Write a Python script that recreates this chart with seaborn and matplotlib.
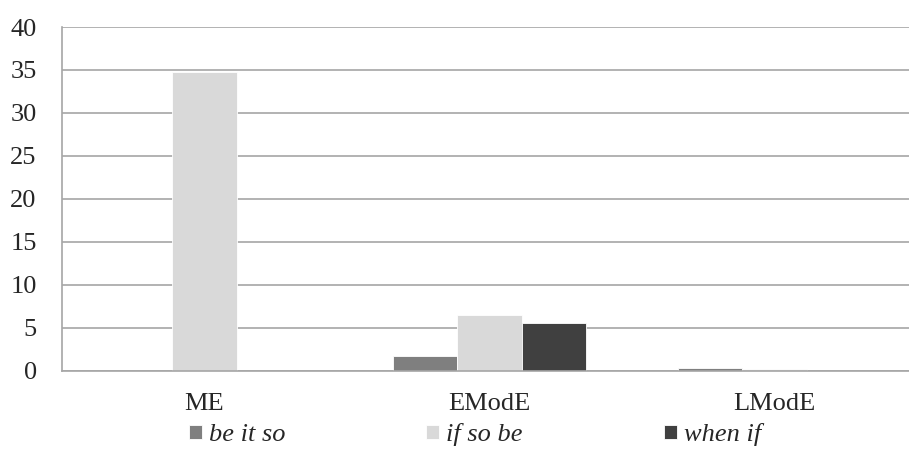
import numpy as np, pandas as pd
import matplotlib; matplotlib.use('Agg')
import matplotlib.pyplot as plt
import seaborn as sns

periods = ['ME', 'EModE', 'LModE']
series = ['be it so', 'if so be', 'when if']
be_it_so = [0.0, 1.65, 0.25]
if_so_be = [34.8, 6.43, 0.15]
when_if = [0.0, 5.53, 0.0]
colors = ['#7f7f7f', '#d9d9d9', '#404040']

df = pd.DataFrame({'period': periods * 3,
                   'form': [s for s in series for _ in periods],
                   'value': be_it_so + if_so_be + when_if})

sns.set_style('white')
plt.rcParams['font.family'] = ['Liberation Serif', 'DejaVu Serif']

fig = plt.figure(figsize=(9.09, 4.49), dpi=100)
ax = fig.add_axes([62/909, (449-370.5)/449, 855/909, (370.5-27)/449])
sns.barplot(data=df, x='period', y='value', hue='form', palette=colors,
            width=0.674, ax=ax, saturation=1, edgecolor='none', legend=True)
for p in ax.patches:
    p.set_edgecolor('#ffffff'); p.set_linewidth(0.6)

ax.set_ylim(0, 40)
ax.set_xlim(-0.5, 2.5)
ax.set_yticks(range(0, 41, 5))
ax.yaxis.grid(True, color='#a6a6a6', linewidth=1.2)
ax.set_axisbelow(True)
for s in ['top', 'right']:
    ax.spines[s].set_visible(False)
for s in ['left', 'bottom']:
    ax.spines[s].set_color('#a6a6a6'); ax.spines[s].set_linewidth(1.2)
ax.tick_params(axis='y', length=7.2, color='#a6a6a6', width=1.2, labelsize=19, pad=11)
ax.tick_params(axis='x', which='major', length=0, labelsize=19, pad=16)
ax.set_xticks([-0.5, 0.5, 1.5, 2.5], minor=True)
ax.tick_params(axis='x', which='minor', length=6.5, color='#a6a6a6', width=1.2)
ax.set_xlabel(''); ax.set_ylabel('')

h, l = ax.get_legend_handles_labels()
ax.legend(h, l, loc='center left', bbox_to_anchor=((189-62)/855, -0.187), ncol=3,
          frameon=False,
          prop={'family': 'Liberation Serif', 'style': 'italic', 'size': 19},
          handlelength=0.48, handleheight=0.48, handletextpad=0.27,
          columnspacing=5.35, borderaxespad=0, borderpad=0)

fig.savefig('out.png', dpi=100)
